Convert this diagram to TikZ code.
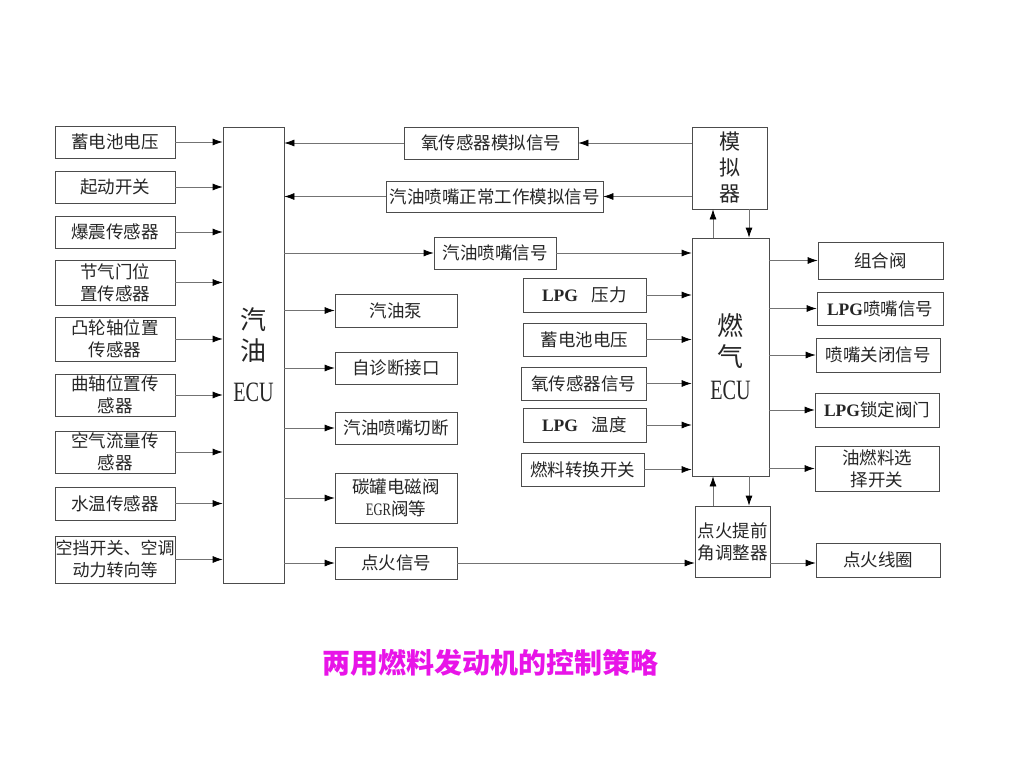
\documentclass[tikz,border=0pt]{standalone}
\usepackage{fontspec}
\setmainfont{Noto Sans CJK SC}
\newfontfamily\latinfont{Liberation Serif}
\newfontfamily\narrowfont[FakeStretch=0.72]{Liberation Serif}
\usetikzlibrary{arrows.meta}
\definecolor{titlepink}{RGB}{232,20,232}

\begin{document}
\begin{tikzpicture}[x=1pt,y=-1pt,
  blk/.style={draw=black!70, line width=0.7pt, inner sep=0pt, align=center,
    font=\fontsize{17.5}{22}\selectfont, text=black!85},
  side/.style={blk, minimum width=120pt},
  mid/.style={blk, minimum width=122pt},
  ecu/.style={blk, font=\fontsize{26}{31}\selectfont},
  arr/.style={draw=black!55, line width=0.7pt, -{Latex[length=10pt,width=7pt,color=black]}}]
\fill[white] (0,0) rectangle (1024,768);
\useasboundingbox (0,0) rectangle (1024,768);

% gasoline ECU and its inputs
\node[ecu, minimum width=61pt, minimum height=456pt] (gecu) at (253.5,355)
     {汽\\油\\[10pt]{\narrowfont\fontsize{28}{30}\selectfont ECU}};
\node[side, minimum height=32pt] (bat)   at (115,142)   {蓄电池电压};
\node[side, minimum height=32pt] (start) at (115,187)   {起动开关};
\node[side, minimum height=32pt] (knock) at (115,232)   {爆震传感器};
\node[side, minimum height=45pt] (thr)   at (115,282.5) {节气门位\\置传感器};
\node[side, minimum height=44pt] (cam)   at (115,339)   {凸轮轴位置\\传感器};
\node[side, minimum height=42pt] (crank) at (115,395)   {曲轴位置传\\感器};
\node[side, minimum height=42pt] (air)   at (115,452)   {空气流量传\\感器};
\node[side, minimum height=33pt] (water) at (115,503.5) {水温传感器};
\node[side, minimum height=47pt, font=\fontsize{17}{22}\selectfont] (acsw) at (115,559.5)
     {空挡开关、空调\\动力转向等};
\foreach \n in {bat,start,knock,thr,cam,crank,air,water,acsw}
  \draw[arr] (\n.east) -- (\n.east -| gecu.west);

% gasoline ECU outputs
\node[mid, minimum height=33pt] (pump) at (396,310.5) {汽油泵};
\node[mid, minimum height=32pt] (diag) at (396,368)   {自诊断接口};
\node[mid, minimum height=32pt] (cut)  at (396,428)   {汽油喷嘴切断};
\node[mid, minimum height=50pt] (egr)  at (396,498)   {碳罐电磁阀\\{\narrowfont EGR}阀等};
\node[mid, minimum height=32pt] (ign)  at (396,563)   {点火信号};
\foreach \n in {pump,diag,cut,egr,ign}
  \draw[arr] (\n.west -| gecu.east) -- (\n.west);

% simulator and gas ECU
\node[blk, minimum width=75pt, minimum height=82pt, font=\fontsize{21}{26}\selectfont]
     (sim) at (729.5,168) {模\\拟\\器};
\node[ecu, minimum width=77pt, minimum height=238pt] (lecu) at (730.5,357)
     {燃\\气\\[2pt]{\narrowfont\fontsize{28}{30}\selectfont ECU}};
\node[blk, minimum width=174pt, minimum height=32pt] (o2sim)  at (491,143)   {氧传感器模拟信号};
\node[blk, minimum width=217pt, minimum height=31pt] (injsim) at (494.5,196.5) {汽油喷嘴正常工作模拟信号};
\node[blk, minimum width=122pt, minimum height=32pt] (injsig) at (495,253)   {汽油喷嘴信号};
\draw[arr] (o2sim.east -| sim.west) -- (o2sim.east);
\draw[arr] (o2sim.west) -- (o2sim.west -| gecu.east);
\draw[arr] (injsim.east -| sim.west) -- (injsim.east);
\draw[arr] (injsim.west) -- (injsim.west -| gecu.east);
\draw[arr] (injsig.west -| gecu.east) -- (injsig.west);
\draw[arr] (injsig.east) -- (injsig.east -| lecu.west);
\draw[arr] ([xshift=-17.5pt]lecu.north) -- ([xshift=-17.5pt]lecu.north |- sim.south);
\draw[arr] ([xshift=19.5pt]sim.south) -- ([xshift=19.5pt]sim.south |- lecu.north);

% gas ECU inputs
\node[blk, minimum width=123pt, minimum height=34pt] (lpgp) at (584.5,295)   {{\latinfont\bfseries LPG}\hspace{0.8em}压力};
\node[blk, minimum width=123pt, minimum height=33pt] (bat2) at (584.5,339.5) {蓄电池电压};
\node[blk, minimum width=125pt, minimum height=33pt] (o2)   at (583.5,383.5) {氧传感器信号};
\node[blk, minimum width=123pt, minimum height=34pt] (lpgt) at (584.5,425)   {{\latinfont\bfseries LPG}\hspace{0.8em}温度};
\node[blk, minimum width=123pt, minimum height=33pt] (fsw)  at (582.5,469.5) {燃料转换开关};
\foreach \n in {lpgp,bat2,o2,lpgt,fsw}
  \draw[arr] (\n.east) -- (\n.east -| lecu.west);

% gas ECU outputs
\node[blk, minimum width=125pt, minimum height=37pt] (combo)  at (880.5,260.5) {组合阀};
\node[blk, minimum width=126pt, minimum height=33pt] (lpginj) at (880,308.5)   {{\latinfont\bfseries LPG}喷嘴信号};
\node[blk, minimum width=124pt, minimum height=34pt] (noz)    at (878,355)     {喷嘴关闭信号};
\node[blk, minimum width=124pt, minimum height=34pt] (lock)   at (877,410)     {{\latinfont\bfseries LPG}锁定阀门};
\node[blk, minimum width=124pt, minimum height=45pt] (sel)    at (877,468.5)   {油燃料选\\择开关};
\foreach \n in {combo,lpginj,noz,lock,sel}
  \draw[arr] (\n.west -| lecu.east) -- (\n.west);

% ignition
\node[blk, minimum width=75pt, minimum height=71pt] (adv)  at (732.5,541.5) {点火提前\\角调整器};
\node[blk, minimum width=124pt, minimum height=34pt] (coil) at (878,560)     {点火线圈};
\draw[arr] ([xshift=-19.5pt]adv.north) -- ([xshift=-19.5pt]adv.north |- lecu.south);
\draw[arr] ([xshift=18.5pt]lecu.south) -- ([xshift=18.5pt]lecu.south |- adv.north);
\draw[arr] (ign.east) -- (ign.east -| adv.west);
\draw[arr] (ign.east -| adv.east) -- (ign.east -| coil.west);

\node[font=\fontsize{28}{30}\selectfont\bfseries, text=titlepink] (title) at (490,663)
     {两用燃料发动机的控制策略};
\end{tikzpicture}
\end{document}
